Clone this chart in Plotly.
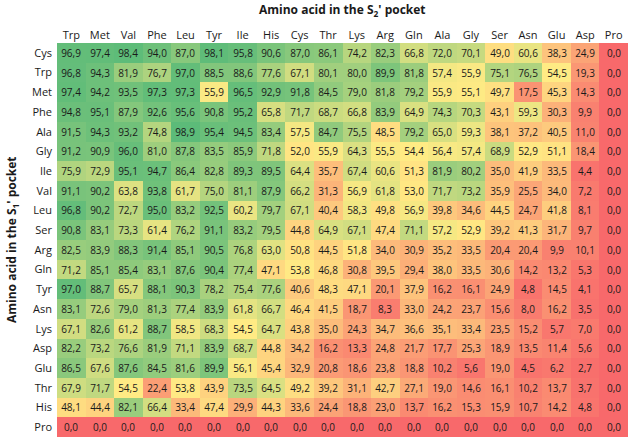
import numpy as np
import plotly.graph_objects as go

cols = ["Trp", "Met", "Val", "Phe", "Leu", "Tyr", "Ile", "His", "Cys", "Thr",
        "Lys", "Arg", "Gln", "Ala", "Gly", "Ser", "Asn", "Glu", "Asp", "Pro"]
rows = ["Cys", "Trp", "Met", "Phe", "Ala", "Gly", "Ile", "Val", "Leu", "Ser",
        "Arg", "Gln", "Tyr", "Asn", "Lys", "Asp", "Glu", "Thr", "His", "Pro"]

r_cys = [96.9, 97.4, 98.4, 94.0, 87.0, 98.1, 95.8, 90.6, 87.0, 86.1, 74.2, 82.3, 66.8, 72.0, 70.1, 49.0, 60.6, 38.3, 24.9, 0.0]
r_trp = [96.8, 94.3, 81.9, 76.7, 97.0, 88.5, 88.6, 77.6, 67.1, 80.1, 80.0, 89.9, 81.8, 57.4, 55.9, 75.1, 76.5, 54.5, 19.3, 0.0]
r_met = [97.4, 94.2, 93.5, 97.3, 97.3, 55.9, 96.5, 92.9, 91.8, 84.5, 79.0, 81.8, 79.2, 55.9, 55.1, 49.7, 17.5, 45.3, 14.3, 0.0]
r_phe = [94.8, 95.1, 87.9, 92.6, 95.6, 90.8, 95.2, 65.8, 71.7, 68.7, 66.8, 83.9, 64.9, 74.3, 70.3, 43.1, 59.3, 30.3, 9.9, 0.0]
r_ala = [91.5, 94.3, 93.2, 74.8, 98.9, 95.4, 94.5, 83.4, 57.5, 84.7, 75.5, 48.5, 79.2, 65.0, 59.3, 38.1, 37.2, 40.5, 11.0, 0.0]
r_gly = [91.2, 90.9, 96.0, 81.0, 87.8, 83.5, 85.9, 71.8, 52.0, 55.9, 64.3, 55.5, 54.4, 56.4, 57.4, 68.9, 52.9, 51.1, 18.4, 0.0]
r_ile = [75.9, 72.9, 95.1, 94.7, 86.4, 82.8, 89.3, 89.5, 64.4, 35.7, 67.4, 60.6, 51.3, 81.9, 80.2, 35.0, 41.9, 33.5, 4.4, 0.0]
r_val = [91.1, 90.2, 63.8, 93.8, 61.7, 75.0, 81.1, 87.9, 66.2, 31.3, 56.9, 61.8, 53.0, 71.7, 73.2, 35.9, 25.5, 34.0, 7.2, 0.0]
r_leu = [96.8, 90.2, 72.7, 95.0, 83.2, 92.5, 60.2, 79.7, 67.1, 40.4, 58.3, 49.8, 56.9, 39.8, 34.6, 44.5, 24.7, 41.8, 8.1, 0.0]
r_ser = [90.8, 83.1, 73.3, 61.4, 76.2, 91.1, 83.2, 79.5, 44.8, 64.9, 67.1, 47.4, 71.1, 57.2, 52.9, 39.2, 41.3, 31.7, 9.7, 0.0]
r_arg = [82.5, 83.9, 88.3, 91.4, 85.1, 90.5, 76.8, 63.0, 50.8, 44.5, 51.8, 34.0, 30.9, 35.2, 33.5, 20.4, 20.4, 9.9, 10.1, 0.0]
r_gln = [71.2, 85.1, 85.4, 83.1, 87.6, 90.4, 77.4, 47.1, 53.8, 46.8, 30.8, 39.5, 29.4, 38.0, 33.5, 30.6, 14.2, 13.2, 5.3, 0.0]
r_tyr = [97.0, 88.7, 65.7, 88.1, 90.3, 78.2, 75.4, 77.6, 40.6, 48.3, 47.1, 20.1, 37.9, 16.2, 16.1, 24.9, 4.8, 14.5, 4.1, 0.0]
r_asn = [83.1, 72.6, 79.0, 81.3, 77.4, 83.9, 61.8, 66.7, 46.4, 41.5, 18.7, 8.3, 33.0, 24.2, 23.7, 15.6, 8.0, 16.2, 3.5, 0.0]
r_lys = [67.1, 82.6, 61.2, 88.7, 58.5, 68.3, 54.5, 64.7, 43.8, 35.0, 24.3, 34.7, 36.6, 35.1, 33.4, 23.5, 15.2, 5.7, 7.0, 0.0]
r_asp = [82.2, 73.2, 76.6, 81.9, 71.1, 83.9, 68.7, 44.8, 34.2, 16.2, 13.3, 24.8, 21.7, 17.7, 25.3, 18.9, 13.5, 11.4, 5.6, 0.0]
r_glu = [86.5, 67.6, 87.6, 84.5, 81.6, 89.9, 56.1, 45.4, 32.9, 20.8, 18.6, 23.8, 18.8, 10.2, 5.6, 19.0, 4.5, 6.2, 2.7, 0.0]
r_thr = [67.9, 71.7, 54.5, 22.4, 53.8, 43.9, 73.5, 64.5, 49.2, 39.2, 31.1, 42.7, 27.1, 19.0, 14.6, 16.1, 10.2, 13.7, 3.7, 0.0]
r_his = [48.1, 44.4, 82.1, 66.4, 33.4, 47.4, 29.9, 44.3, 33.6, 24.4, 18.8, 23.0, 13.7, 16.2, 15.3, 15.9, 10.7, 14.2, 4.8, 0.0]
r_pro = [0.0] * 20

z = [r_cys, r_trp, r_met, r_phe, r_ala, r_gly, r_ile, r_val, r_leu, r_ser,
     r_arg, r_gln, r_tyr, r_asn, r_lys, r_asp, r_glu, r_thr, r_his, r_pro]

arr = np.array(z)
zmin, zmax = arr.min(), arr.max()
mid = (np.percentile(arr, 50) - zmin) / (zmax - zmin)
text = [[f"{v:.1f}".replace(".", ",") for v in row] for row in z]

fig = go.Figure(go.Heatmap(
    z=z, x=cols, y=rows, text=text, texttemplate="%{text}",
    textfont=dict(family="Open Sans", size=10, color="#1a1a1a"),
    colorscale=[[0, "#F8696B"], [mid, "#FFEB84"], [1, "#5CBB79"]],
    zmin=zmin, zmax=zmax, showscale=False, xgap=0, ygap=0,
))

fig.update_layout(
    width=640, height=444,
    margin=dict(l=57, r=12, t=43, b=7),
    paper_bgcolor="white", plot_bgcolor="white",
    font=dict(family="Open Sans", size=11, color="#1a1a1a"),
    xaxis=dict(side="top", showgrid=False, zeroline=False, ticks="",
               tickfont=dict(size=11), ticklabelstandoff=1, automargin=False),
    yaxis=dict(autorange="reversed", showgrid=False, zeroline=False, ticks="",
               tickfont=dict(size=11), ticklabelstandoff=4, automargin=False),
    annotations=[
        dict(text="<b>Amino acid in the S<sub>2</sub>' pocket</b>", x=0.5, y=1,
             xref="paper", yref="paper", yshift=33, xanchor="center",
             yanchor="middle", showarrow=False, font=dict(size=12)),
        dict(text="<b>Amino acid in the S<sub>1</sub>' pocket</b>", x=0, y=0.5,
             xref="paper", yref="paper", xshift=-45, xanchor="center",
             yanchor="middle", showarrow=False, textangle=-90,
             font=dict(size=12)),
    ],
)
fig.write_html("out.html", config={"displayModeBar": False},
               post_script="document.body.style.margin='0';document.body.style.overflow='hidden';")
